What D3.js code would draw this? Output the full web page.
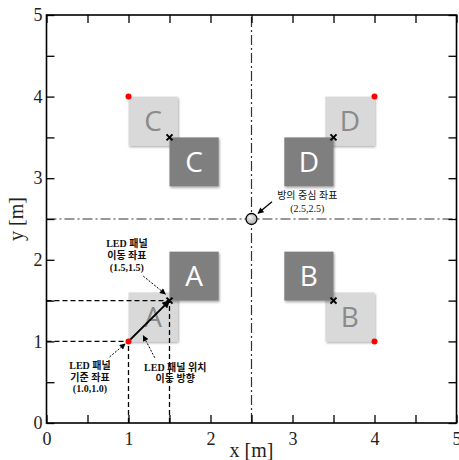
<!DOCTYPE html>
<html><head><meta charset="utf-8">
<script src="https://cdn.jsdelivr.net/npm/d3@7"></script>
<style>body{margin:0;background:#fff}svg{display:block}</style>
</head><body>
<svg id="c" width="459" height="460"></svg>
<script>
// ---- data ----
const panelLabels = ["A", "B", "C", "D"];
const refX = [1.0, 4.0, 1.0, 4.0];     // LED panel reference points (red dots)
const refY = [1.0, 1.0, 4.0, 4.0];
const moveX = [1.5, 3.5, 1.5, 3.5];    // moved coordinates (x marks)
const moveY = [1.5, 1.5, 3.5, 3.5];
const dirX = [1, -1, 1, -1];           // direction panel extends from its corner
const dirY = [1, 1, -1, -1];
const panelSize = 0.6;
const roomCenter = [2.5, 2.5];
const tickValues = [0, 0.5, 1, 1.5, 2, 2.5, 3, 3.5, 4, 4.5, 5];
const tickLabels = ["0", "1", "2", "3", "4", "5"];
const xTitle = "x [m]", yTitle = "y [m]";
const annCenter = ["방의 중심 좌표", "(2.5,2.5)"];
const annMove = ["LED 패널", "이동 좌표", "(1.5,1.5)"];
const annBase = ["LED 패널", "기준 좌표", "(1.0,1.0)"];
const annDir = ["LED 패널 위치", "이동 방향"];

// ---- scales ----
const svg = d3.select("#c");
const x = d3.scaleLinear().domain([0, 5]).range([46.5, 456.5]);
const y = d3.scaleLinear().domain([0, 5]).range([423, 15]);

const defs = svg.append("defs");
const sh = defs.append("filter").attr("id", "sh").attr("x", "-10%").attr("y", "-10%").attr("width", "130%").attr("height", "130%");
sh.append("feDropShadow").attr("dx", 1).attr("dy", 1.5).attr("stdDeviation", 1).attr("flood-color", "#000").attr("flood-opacity", 0.35);
function marker(id, w, h) {
  defs.append("marker").attr("id", id).attr("viewBox", "0 0 10 10").attr("refX", 9).attr("refY", 5)
    .attr("markerWidth", w).attr("markerHeight", h).attr("markerUnits", "userSpaceOnUse").attr("orient", "auto")
    .append("path").attr("d", "M0,0 L10,5 L0,10 Z").attr("fill", "#000");
}
marker("ah", 11, 8);
marker("ahs", 8, 6);
const grad = defs.append("radialGradient").attr("id", "cg").attr("cx", "40%").attr("cy", "35%").attr("r", "70%");
grad.append("stop").attr("offset", "0%").attr("stop-color", "#f2f2f2");
grad.append("stop").attr("offset", "100%").attr("stop-color", "#a8a8a8");

// ---- dash-dot center lines ----
const g = svg.append("g");
g.append("line").attr("x1", x(roomCenter[0])).attr("x2", x(roomCenter[0])).attr("y1", y(0)).attr("y2", y(5))
  .attr("stroke", "#333").attr("stroke-width", 1.2).attr("stroke-dasharray", "10,3,2,3");
g.append("line").attr("y1", y(roomCenter[1])).attr("y2", y(roomCenter[1])).attr("x1", x(0)).attr("x2", x(5))
  .attr("stroke", "#333").attr("stroke-width", 1.2).attr("stroke-dasharray", "10,3,2,3");

// ---- panels ----
const idx = d3.range(panelLabels.length);
function rectOf(cx, cy, i) {
  const xa = cx, xb = cx + dirX[i] * panelSize, ya = cy, yb = cy + dirY[i] * panelSize;
  return { x0: Math.min(xa, xb), x1: Math.max(xa, xb), y0: Math.min(ya, yb), y1: Math.max(ya, yb) };
}
function drawPanels(px, py, fill, textFill) {
  const pg = g.append("g");
  idx.forEach(i => {
    const r = rectOf(px[i], py[i], i);
    pg.append("rect").attr("x", x(r.x0)).attr("y", y(r.y1)).attr("width", x(r.x1) - x(r.x0)).attr("height", y(r.y0) - y(r.y1))
      .attr("fill", fill).attr("filter", "url(#sh)");
    pg.append("text").attr("x", x((r.x0 + r.x1) / 2)).attr("y", y((r.y0 + r.y1) / 2) + 10)
      .attr("text-anchor", "middle").attr("font-family", "Open Sans, Noto Sans, sans-serif").attr("font-size", 28)
      .attr("fill", textFill).text(panelLabels[i]);
  });
}
drawPanels(refX, refY, "#d9d9d9", "#8a8a8a");
drawPanels(moveX, moveY, "#7f7f7f", "#ffffff");

// ---- dashed guide lines (panel A) ----
[[refX[0], refY[0]], [moveX[0], moveY[0]]].forEach(p => {
  g.append("line").attr("x1", x(0)).attr("x2", x(p[0])).attr("y1", y(p[1])).attr("y2", y(p[1]))
    .attr("stroke", "#000").attr("stroke-width", 1.3).attr("stroke-dasharray", "5,3");
  g.append("line").attr("x1", x(p[0])).attr("x2", x(p[0])).attr("y1", y(0)).attr("y2", y(p[1]))
    .attr("stroke", "#000").attr("stroke-width", 1.3).attr("stroke-dasharray", "5,3");
});

// ---- movement arrow ----
g.append("line").attr("x1", x(refX[0])).attr("y1", y(refY[0])).attr("x2", x(moveX[0])).attr("y2", y(moveY[0]))
  .attr("stroke", "#000").attr("stroke-width", 2).attr("marker-end", "url(#ah)");

// ---- red dots and x marks ----
idx.forEach(i => {
  g.append("circle").attr("cx", x(refX[i])).attr("cy", y(refY[i])).attr("r", 3).attr("fill", "#ff0000");
  const mx = x(moveX[i]), my = y(moveY[i]), s = 3;
  g.append("path").attr("d", `M${mx - s},${my - s}L${mx + s},${my + s}M${mx - s},${my + s}L${mx + s},${my - s}`)
    .attr("stroke", "#000").attr("stroke-width", 2);
});

// ---- room center circle ----
g.append("circle").attr("cx", x(roomCenter[0])).attr("cy", y(roomCenter[1])).attr("r", 5.5)
  .attr("fill", "url(#cg)").attr("stroke", "#000").attr("stroke-width", 1.3);

// ---- annotations ----
const korFont = "Liberation Serif, Noto Sans CJK KR, serif";
function ann(lines, cx, cy0, dy, bold) {
  lines.forEach((t, k) => {
    svg.append("text").attr("x", x(cx)).attr("y", y(cy0) + k * dy + 4).attr("text-anchor", "middle")
      .attr("font-family", korFont).attr("font-size", 10).attr("font-weight", bold ? "bold" : "normal")
      .attr("fill", "#111").text(t);
  });
}
function arrow(x1, y1, x2, y2, dotted) {
  svg.append("line").attr("x1", x(x1)).attr("y1", y(y1)).attr("x2", x(x2)).attr("y2", y(y2))
    .attr("stroke", "#000").attr("stroke-width", dotted ? 1 : 1.3)
    .attr("stroke-dasharray", dotted ? "2,1.5" : null).attr("marker-end", "url(#ahs)");
}
ann(annCenter, 3.18, 2.79, 13, false);
arrow(2.75, 2.71, 2.58, 2.57, false);
ann(annMove, 0.98, 2.21, 12, true);
arrow(1.18, 1.80, 1.45, 1.58, true);
ann(annBase, 0.53, 0.71, 11.5, true);
arrow(0.77, 0.81, 0.96, 0.97, true);
ann(annDir, 1.57, 0.69, 11.5, true);
arrow(1.32, 0.80, 1.18, 1.07, true);

// ---- axes ----
const fmt = d => (Number.isInteger(d) ? tickLabels[d] : "");
const axB = svg.append("g").attr("transform", `translate(0,${y(0)})`)
  .call(d3.axisBottom(x).tickValues(tickValues).tickSizeInner(-8).tickSizeOuter(0).tickPadding(9).tickFormat(fmt));
const axT = svg.append("g").attr("transform", `translate(0,${y(5)})`)
  .call(d3.axisTop(x).tickValues(tickValues).tickSizeInner(-8).tickSizeOuter(0).tickFormat(""));
const axL = svg.append("g").attr("transform", `translate(${x(0)},0)`)
  .call(d3.axisLeft(y).tickValues(tickValues).tickSizeInner(-8).tickSizeOuter(0).tickPadding(4).tickFormat(fmt));
const axR = svg.append("g").attr("transform", `translate(${x(5)},0)`)
  .call(d3.axisRight(y).tickValues(tickValues).tickSizeInner(-8).tickSizeOuter(0).tickFormat(""));
[axB, axT, axL, axR].forEach(a => {
  a.select(".domain").remove();
  a.selectAll("line").attr("stroke", "#000").attr("stroke-width", 1.3);
  a.selectAll("text").attr("font-family", "Liberation Serif, serif").attr("font-size", 18).attr("fill", "#222");
});
axB.selectAll("text").attr("dy", "0.71em");
svg.append("rect").attr("x", x(0)).attr("y", y(5)).attr("width", x(5) - x(0)).attr("height", y(0) - y(5))
  .attr("fill", "none").attr("stroke", "#000").attr("stroke-width", 1.6);

svg.append("text").attr("x", x(2.5)).attr("y", 457).attr("text-anchor", "middle")
  .attr("font-family", "Liberation Serif, serif").attr("font-size", 20).attr("fill", "#222").text(xTitle);
svg.append("text").attr("transform", `translate(23,${y(2.5)}) rotate(-90)`).attr("text-anchor", "middle")
  .attr("font-family", "Liberation Serif, serif").attr("font-size", 20).attr("fill", "#222").text(yTitle);
</script>
</body></html>
